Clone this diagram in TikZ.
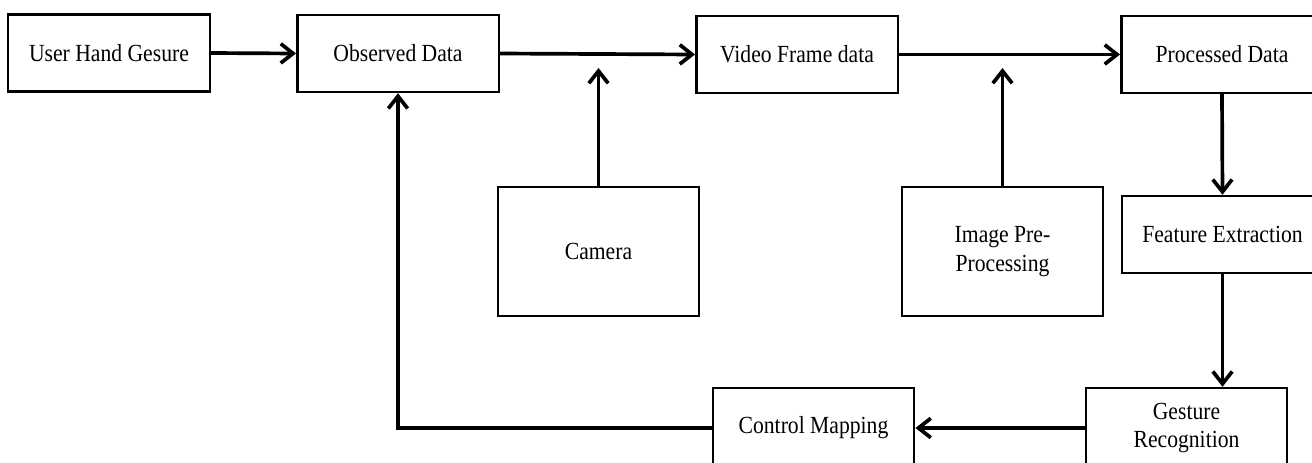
\documentclass[tikz,border=0pt]{standalone}
\usepackage{fontspec}
\setmainfont{Liberation Serif}[FakeStretch=0.88]
\usetikzlibrary{arrows.meta}

\begin{document}
\begin{tikzpicture}[x=0.02cm, y=-0.02cm,
    box/.style={draw, line width=1.4pt, rectangle, align=center, inner sep=2pt,
        minimum width=\bw, font=\fontsize{14}{16.5}\selectfont},
    arr/.style={line width=2.1pt, -{Straight Barb[length=7pt, width=11pt]}}]
    % --- parameters (1 unit = 1 px of the picture) ---
    \def\bw{4.03cm}      % box width
    \def\bh{1.54cm}      % box height, top row
    \def\th{2.58cm}      % box height, tall boxes

    \useasboundingbox (0,0) rectangle (1312,463);

    % --- top row ---
    \node[box, minimum height=\bh] (user) at (109, 53)   {User Hand Gesure};
    \node[box, minimum height=\bh] (obs)  at (398, 53.5) {Observed Data};
    \node[box, minimum height=\bh] (vid)  at (797, 54.5) {Video Frame data};
    \node[box, minimum height=\bh] (proc) at (1222, 54.5) {Processed Data};

    % --- inputs from below ---
    \node[box, minimum height=\th] (cam) at (598.5, 251.5)  {Camera};
    \node[box, minimum height=\th] (pre) at (1002.5, 251.5) {Image Pre-\\Processing};

    % --- right column and bottom row ---
    \node[box, minimum height=\bh] (feat) at (1222.5, 234.5) {Feature Extraction};
    \node[box, minimum height=1.6cm] (gest) at (1186.5, 428) {Gesture\\Recognition};
    \node[box, minimum height=1.6cm] (ctrl) at (813.5, 428)  {Control Mapping};

    % --- arrow ends that stop under the lines ---
    \coordinate (camtip) at (598.5, 68);
    \coordinate (pretip) at (1002.5, 68);

    % --- connectors ---
    \draw[arr] (user.east) -- (obs.west);
    \draw[arr] (obs.east) -- (vid.west);
    \draw[arr] (vid.east) -- (proc.west);
    \draw[arr] (cam.north) -- (camtip);
    \draw[arr] (pre.north) -- (pretip);
    \draw[arr] (proc.south) -- (feat.north);
    \draw[arr] (feat.south) -- (feat.south |- gest.north);
    \draw[arr] (gest.west) -- (ctrl.east);
    \draw[arr] (ctrl.west) -| (obs.south);

\end{tikzpicture}
\end{document}
